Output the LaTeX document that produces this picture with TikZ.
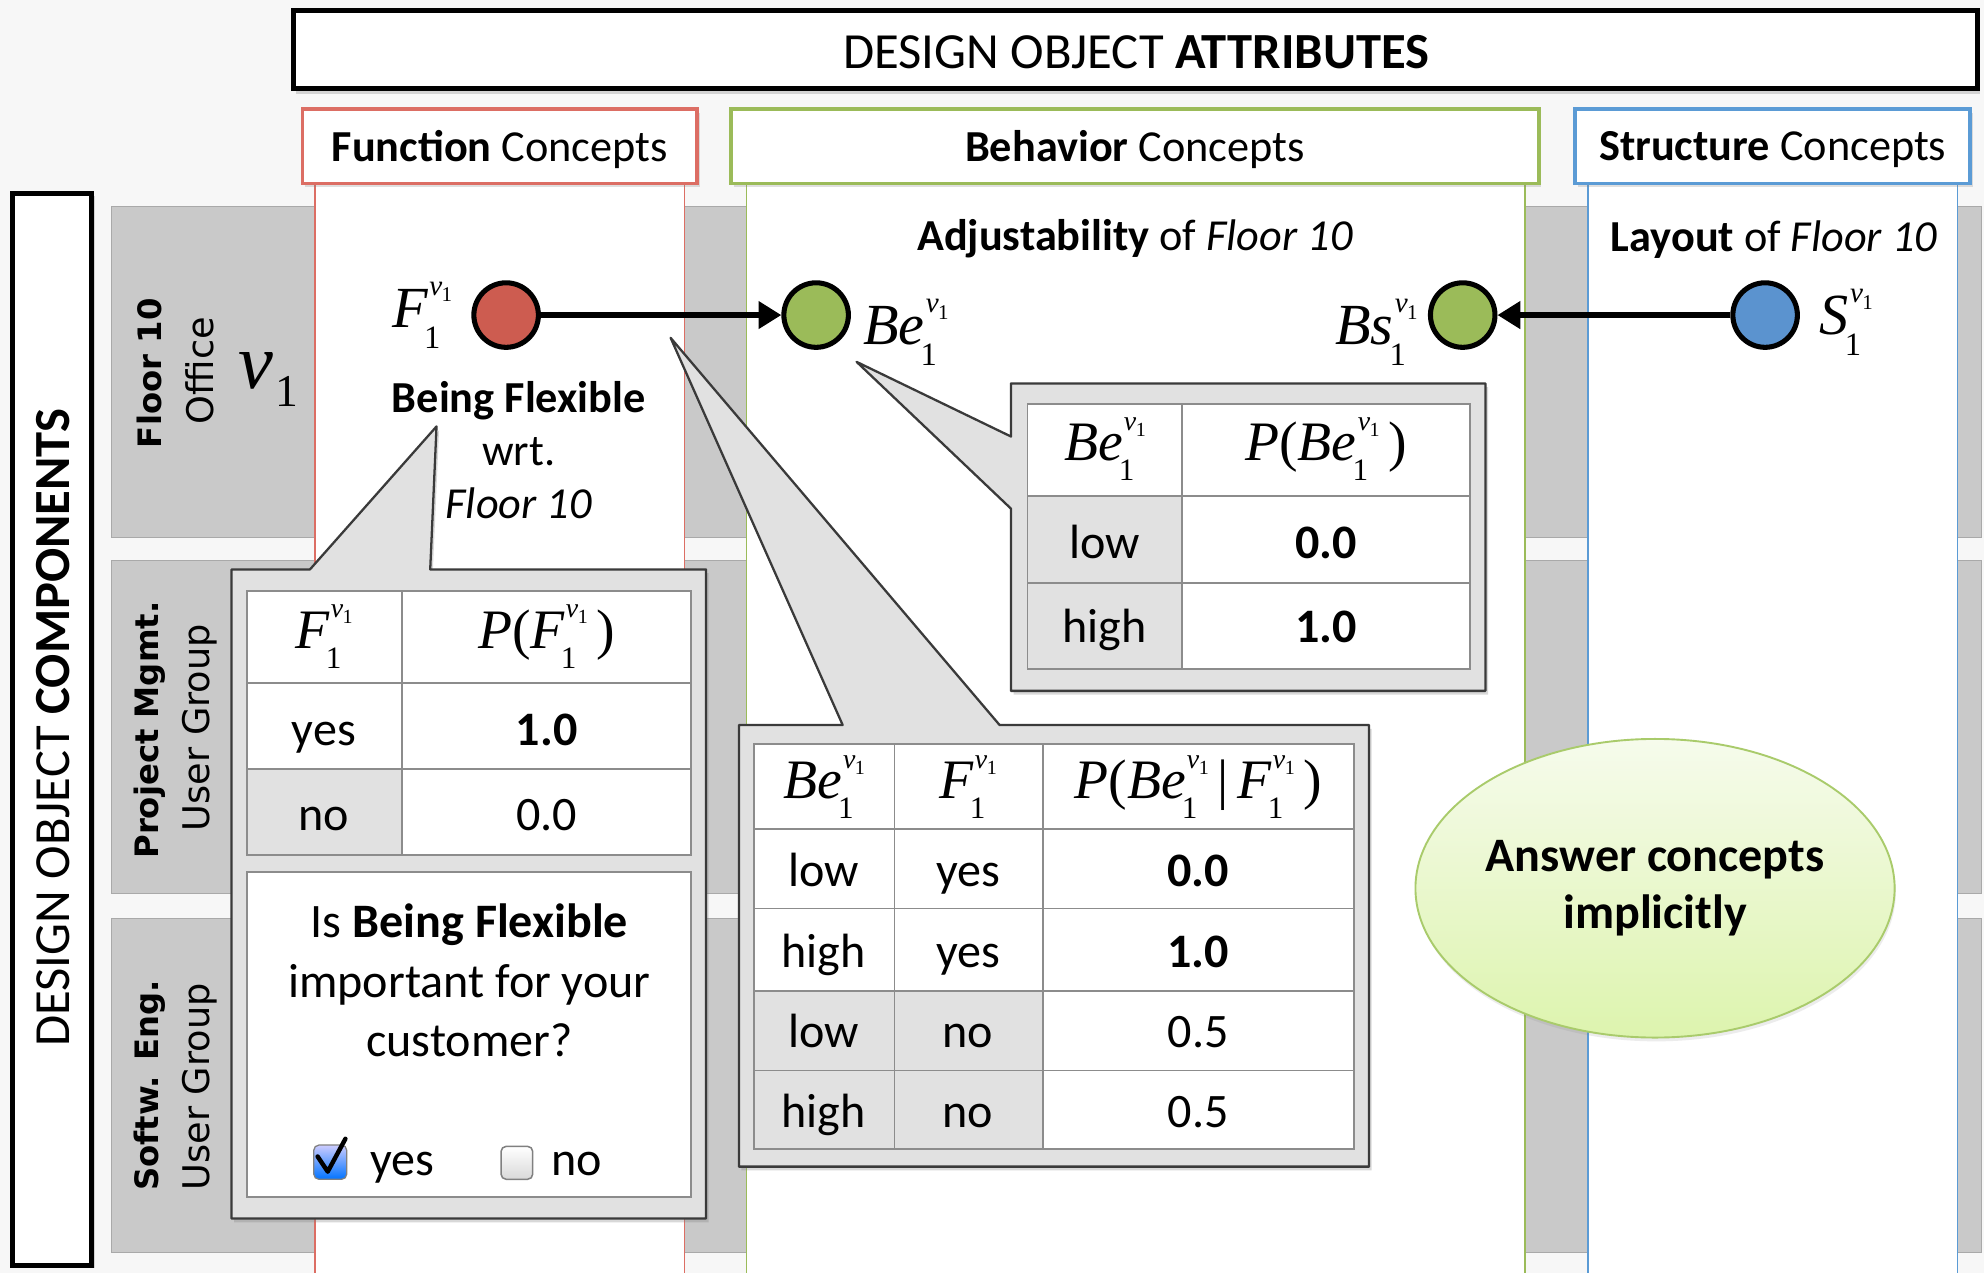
\documentclass[tikz,border=0pt]{standalone}
\usepackage{fontspec}
\setmainfont{Carlito}
\newfontfamily\vfont{DejaVu Sans}
\newfontfamily\tms{Liberation Serif}
\usetikzlibrary{shadows,arrows.meta,shapes.geometric}

\definecolor{bgc}{HTML}{F7F7F7}
\definecolor{band}{HTML}{C9C9C9}
\definecolor{bandline}{HTML}{A9A9A9}
\definecolor{fred}{HTML}{CD5C50}
\definecolor{lred}{HTML}{DC6E64}
\definecolor{fgreen}{HTML}{9BBB59}
\definecolor{fblue}{HTML}{5B93CF}
\definecolor{lblue}{HTML}{5B9BD5}
\definecolor{callfill}{HTML}{E1E1E1}
\definecolor{callline}{HTML}{3A3A3A}
\definecolor{gridc}{HTML}{8C8C8C}
\definecolor{ansline}{HTML}{A9CB6B}
\definecolor{anstop}{HTML}{F6FBEC}
\definecolor{ansbot}{HTML}{DDF4AE}

\newcommand\fs[2]{\fontsize{#1}{#2}\selectfont}
% variable with subscript 1 and superscript v_1
\newcommand\vv[1]{{\tms\itshape #1}\makebox[0.40em][l]{\rlap{\kern0.02em\raisebox{0.55em}{\scalebox{0.5}{\tms\itshape v\kern-0.02em\raisebox{-0.22em}{\scalebox{0.72}{\upshape 1}}}}}\kern-0.07em\raisebox{-0.36em}{\scalebox{0.56}{\tms 1}}}}

\tikzset{
  frame/.style={draw=black, line width=4pt, fill=white},
  hdr/.style={line width=3pt, fill=white, drop shadow={shadow xshift=2pt, shadow yshift=-3pt, opacity=0.25}},
  colbody/.style={fill=white},
  bandbox/.style={fill=band, draw=bandline, line width=1pt},
  conc/.style={circle, draw=black, line width=4pt, minimum size=51pt, inner sep=0pt},
  arw/.style={-{Triangle[length=18pt,width=21pt]}, line width=4.4pt},
  lbl/.style={inner sep=0pt, font=\fs{35}{42}},
  varlbl/.style={inner sep=0pt, font=\fs{46}{50}},
  rowb/.style={inner sep=0pt, rotate=90, font=\vfont\bfseries\fs{25.5}{28}},
  rowr/.style={inner sep=0pt, rotate=90, font=\vfont\fs{29}{30}},
  callout/.style={fill=callfill, draw=callline, line width=1.8pt, line join=round,
    drop shadow={shadow xshift=2pt, shadow yshift=-3pt, opacity=0.3}},
  tab/.style={fill=white, draw=gridc, line width=1.4pt},
  grid/.style={draw=gridc, line width=1.4pt},
  cell/.style={inner sep=0pt, text height=25pt, text depth=3pt, font=\fs{38}{40}},
  vcell/.style={inner sep=0pt, font=\fs{44}{48}},
}

\begin{document}
\begin{tikzpicture}[x=1pt, y=-1pt]
\useasboundingbox (0,0) rectangle (1568,1006);
\fill[bgc] (0,0) rectangle (1568,1006);

% row bands
\foreach \ya/\yb in {163/425, 443/706, 726/990}
  \draw[bandbox] (88,\ya) rectangle (1566,\yb);

% column bodies
\fill[colbody] (249,145) rectangle (541,1006);
\fill[colbody] (590,145) rectangle (1205,1006);
\fill[colbody] (1255,145) rectangle (1547,1006);
\draw[lred, line width=1.3pt] (249,145) -- (249,1006) (541,145) -- (541,1006);
\draw[fgreen, line width=1.3pt] (590,145) -- (590,1006) (1205,145) -- (1205,1006);
\draw[lblue, line width=1.3pt] (1255,145) -- (1255,1006) (1547,145) -- (1547,1006);

% attribute header and column headers
\draw[frame, drop shadow={shadow xshift=2pt, shadow yshift=-4pt, opacity=0.3}] (232,8) rectangle (1563,70);
\node[inner sep=0pt, font=\fs{40}{42}] (attr) at (898,41) {DESIGN OBJECT \textbf{ATTRIBUTES}};
\draw[hdr, draw=lred] (239,86) rectangle (551,145);
\draw[hdr, draw=fgreen] (578,86) rectangle (1216,145);
\draw[hdr, draw=lblue] (1245,86) rectangle (1557,145);
\node[inner sep=0pt, font=\fs{35}{38}] (hf) at (395,118) {\textbf{Function} Concepts};
\node[inner sep=0pt, font=\fs{35}{38}] (hb) at (897,118) {\textbf{Behavior} Concepts};
\node[inner sep=0pt, font=\fs{35}{38}] (hs) at (1401,118) {\textbf{Structure} Concepts};

% component header
\draw[frame, drop shadow={shadow xshift=3pt, shadow yshift=-2pt, opacity=0.3}] (10,153) rectangle (72,1000);
\node[inner sep=0pt, rotate=90, font=\fs{40}{42}] (comp) at (42,575) {DESIGN OBJECT \textbf{COMPONENTS}};

% row labels
\node[rowb] (r1a) at (118,295) {Floor 10};
\node[rowr] (r1b) at (158,293) {Office};
\node[inner sep=0pt] (r1v) at (212,300) {\fs{62}{64}\tms\itshape v\kern0.02em\raisebox{-0.22em}{\fs{36}{38}\upshape 1}};
\node[rowb] (r2a) at (118,577) {Project Mgmt.};
\node[rowr] (r2b) at (158,575) {User Group};
\node[rowb] (r3a) at (118,858) {Softw. Eng.};
\node[rowr] (r3b) at (158,859) {User Group};

% column captions
\node[lbl] (adj) at (897,189) {\textbf{Adjustability} of \textit{Floor 10}};
\node[lbl] (lay) at (1402,189) {\textbf{Layout} of \textit{Floor 10}};
\node[lbl, align=center] (flex) at (410,356) {\textbf{Being Flexible}\\wrt.\\\textit{Floor 10}};

% concept nodes
\node[conc, fill=fred] (F) at (400,249) {};
\node[conc, fill=fgreen] (Be) at (645,249) {};
\node[conc, fill=fgreen] (Bs) at (1156,249) {};
\node[conc, fill=fblue] (S) at (1395,249) {};
\node[varlbl, anchor=east] (Fl) at (357,249) {\vv{F}};
\node[varlbl, anchor=west] (Bel) at (682,263) {\vv{Be}};
\node[varlbl, anchor=east] (Bsl) at (1120,263) {\vv{Bs}};
\node[varlbl, anchor=west] (Sl) at (1438,255) {\vv{S}};
\draw[arw] (F) -- (Be);
\draw[arw] (S) -- (Bs);

% callout: P(Be | F)
\draw[callout] (584,573) -- (666,573) -- (530,267) -- (790,573) -- (1082,573) -- (1082,922) -- (584,922) -- cycle;
\draw[tab] (596,588) rectangle (1070,908);
\fill[callfill] (596,783) rectangle (824,908);
\draw[grid] (596,588) rectangle (1070,908);
\draw[grid] (707,588) -- (707,908) (824,588) -- (824,908);
\draw[grid] (596,655) -- (1070,655) (596,718) -- (1070,718) (596,783) -- (1070,783) (596,846) -- (1070,846);
\node[vcell] (c0a) at (651,622) {\vv{Be}};
\node[vcell] (c0b) at (765,622) {\vv{F}};
\node[vcell] (c0c) at (947,622) {{\tms\itshape P}{\tms(}\vv{Be}\,{\tms|}\,\vv{F}\,{\tms)}};
\node[cell] (c1a) at (651,690) {low};
\node[cell] (c1b) at (765,690) {yes};
\node[cell] (c1c) at (947,690) {\textbf{0.0}};
\node[cell] (c2a) at (651,754) {high};
\node[cell] (c2b) at (765,754) {yes};
\node[cell] (c2c) at (947,754) {\textbf{1.0}};
\node[cell] (c3a) at (651,817) {low};
\node[cell] (c3b) at (765,817) {no};
\node[cell] (c3c) at (947,817) {0.5};
\node[cell] (c4a) at (651,880) {high};
\node[cell] (c4b) at (765,880) {no};
\node[cell] (c4c) at (947,880) {0.5};

% callout: P(F) and question
\draw[callout] (183,450) -- (245,450) -- (345,337) -- (340,450) -- (558,450) -- (558,963) -- (183,963) -- cycle;
\draw[tab] (195,467) rectangle (546,676);
\fill[callfill] (195,608) rectangle (318,676);
\draw[grid] (195,467) rectangle (546,676);
\draw[grid] (318,467) -- (318,676) (195,540) -- (546,540) (195,608) -- (546,608);
\node[vcell] (f0a) at (256,503) {\vv{F}};
\node[vcell] (f0b) at (432,503) {{\tms\itshape P}{\tms(}\vv{F}\,{\tms)}};
\node[cell] (f1a) at (256,578) {yes};
\node[cell] (f1b) at (432,578) {\textbf{1.0}};
\node[cell] (f2a) at (256,645) {no};
\node[cell] (f2b) at (432,645) {0.0};
\draw[tab] (195,689) rectangle (546,946);
\node[inner sep=0pt, align=center, font=\fs{38}{47}] (q) at (371,775) {Is \textbf{Being Flexible}\\important for your\\customer?};
\shade[top color=blue!20, bottom color=blue!55!cyan, draw=gray, line width=1pt, rounded corners=4pt] (248,905) rectangle (274,932);
\draw[line width=3.5pt, line cap=round, line join=round] (251,914) -- (259,926) -- (273,900);
\shade[top color=white, bottom color=gray!30, draw=gray, line width=1.2pt, rounded corners=4pt] (396,906) rectangle (421,932);
\node[cell] (qy) at (318,918) {yes};
\node[cell] (qn) at (456,918) {no};

% callout: P(Be)
\draw[callout] (799,303) -- (1174,303) -- (1174,546) -- (799,546) -- (799,402) -- (677,286) -- (799,345) -- cycle;
\draw[tab] (812,319) rectangle (1162,529);
\fill[callfill] (812,392) rectangle (934,529);
\draw[grid] (812,319) rectangle (1162,529);
\draw[grid] (934,319) -- (934,529) (812,392) -- (1162,392) (812,461) -- (1162,461);
\node[vcell] (b0a) at (873,355) {\vv{Be}};
\node[vcell] (b0b) at (1048,355) {{\tms\itshape P}{\tms(}\vv{Be}\,{\tms)}};
\node[cell] (b1a) at (873,430) {low};
\node[cell] (b1b) at (1048,430) {\textbf{0.0}};
\node[cell] (b2a) at (873,497) {high};
\node[cell] (b2b) at (1048,497) {\textbf{1.0}};

% note
\node[ellipse, draw=ansline, line width=1.5pt, top color=anstop, bottom color=ansbot,
  minimum width=376pt, minimum height=236pt, inner sep=0pt, align=center, font=\bfseries\fs{38}{45},
  drop shadow={shadow xshift=1pt, shadow yshift=-3pt, opacity=0.15}] (ans) at (1308,702) {Answer concepts\\implicitly};
\end{tikzpicture}
\end{document}
